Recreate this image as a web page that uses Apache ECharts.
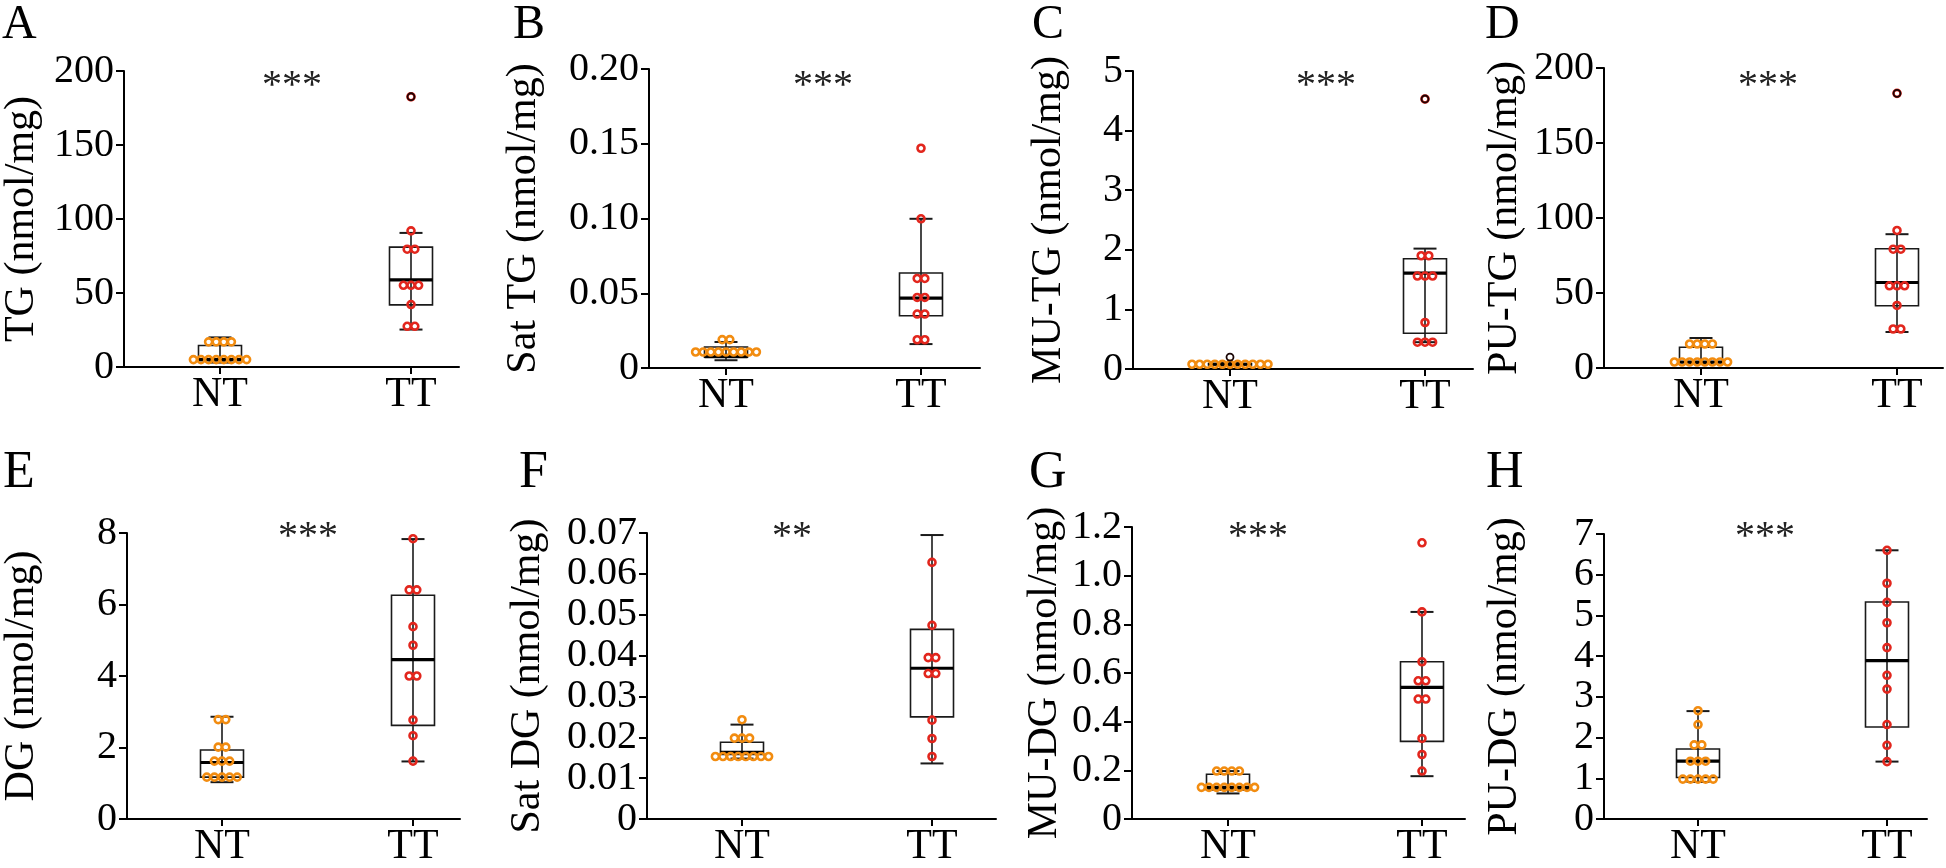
<!DOCTYPE html>
<html>
<head>
<meta charset="utf-8">
<script src="https://cdn.jsdelivr.net/npm/echarts@6/dist/echarts.min.js"></script>
<style>html,body{margin:0;padding:0;background:#fff}#chart{width:1946px;height:868px}</style>
</head>
<body>
<div id="chart"></div>
<script>
// ---------- data ----------
const categories = ['NT', 'TT'];
const panelLetters = ['A', 'B', 'C', 'D', 'E', 'F', 'G', 'H'];
const yTitles = ['TG (nmol/mg)', 'Sat TG (nmol/mg)', 'MU-TG (nmol/mg)', 'PU-TG (nmol/mg)',
                 'DG (nmol/mg)', 'Sat DG (nmol/mg)', 'MU-DG (nmol/mg)', 'PU-DG (nmol/mg)'];
const significance = ['***', '***', '***', '***', '***', '**', '***', '***'];

// tick values and labels
const A_ticks = [0, 50, 100, 150, 200];           const A_tickLabels = ['0', '50', '100', '150', '200'];
const B_ticks = [0, 0.05, 0.10, 0.15, 0.20];      const B_tickLabels = ['0', '0.05', '0.10', '0.15', '0.20'];
const C_ticks = [0, 1, 2, 3, 4, 5];               const C_tickLabels = ['0', '1', '2', '3', '4', '5'];
const D_ticks = [0, 50, 100, 150, 200];           const D_tickLabels = ['0', '50', '100', '150', '200'];
const E_ticks = [0, 2, 4, 6, 8];                  const E_tickLabels = ['0', '2', '4', '6', '8'];
const F_ticks = [0, 0.01, 0.02, 0.03, 0.04, 0.05, 0.06, 0.07];
const F_tickLabels = ['0', '0.01', '0.02', '0.03', '0.04', '0.05', '0.06', '0.07'];
const G_ticks = [0, 0.2, 0.4, 0.6, 0.8, 1.0, 1.2]; const G_tickLabels = ['0', '0.2', '0.4', '0.6', '0.8', '1.0', '1.2'];
const H_ticks = [0, 1, 2, 3, 4, 5, 6, 7];          const H_tickLabels = ['0', '1', '2', '3', '4', '5', '6', '7'];

// individual points
const A_NT = [17, 17, 17, 17, 5, 5, 5, 5, 5, 5, 5, 5];
const A_TT = [182.6, 92, 79.6, 79.6, 55.2, 55.2, 55.2, 42.2, 27.5, 27.5];
const B_NT = [0.019, 0.019, 0.0107, 0.0107, 0.0107, 0.0107, 0.0107, 0.0107, 0.0107, 0.0107, 0.0107];
const B_TT = [0.147, 0.0998, 0.0599, 0.0599, 0.0472, 0.0472, 0.0361, 0.0361, 0.0189, 0.0189];
const C_NT = [0.08, 0.08, 0.08, 0.08, 0.08, 0.08, 0.08, 0.08, 0.08, 0.08, 0.08];
const C_TT = [4.53, 1.90, 1.90, 1.56, 1.56, 1.56, 0.78, 0.45, 0.45, 0.45];
const D_NT = [16, 16, 16, 16, 4, 4, 4, 4, 4, 4, 4, 4];
const D_TT = [183.1, 91.7, 79.2, 79.2, 54.8, 54.8, 54.8, 41.7, 26, 26];
const E_NT = [2.78, 2.78, 2.01, 2.01, 1.62, 1.62, 1.62, 1.17, 1.17, 1.17, 1.17, 1.17];
const E_TT = [7.84, 6.41, 6.41, 5.38, 4.86, 4.0, 4.0, 2.77, 2.33, 1.62];
const F_NT = [0.0243, 0.0198, 0.0198, 0.0198, 0.0153, 0.0153, 0.0153, 0.0153, 0.0153, 0.0153, 0.0153, 0.0153];
const F_TT = [0.0710, 0.0628, 0.0474, 0.0395, 0.0395, 0.0356, 0.0356, 0.0242, 0.0197, 0.0153];
const G_NT = [0.197, 0.197, 0.197, 0.197, 0.130, 0.130, 0.130, 0.130, 0.130, 0.130, 0.130, 0.130];
const G_TT = [1.135, 0.851, 0.646, 0.568, 0.568, 0.493, 0.493, 0.331, 0.265, 0.197];
const H_NT = [2.66, 2.32, 1.82, 1.82, 1.42, 1.42, 1.42, 0.98, 0.98, 0.98, 0.98, 0.98];
const H_TT = [6.60, 5.79, 5.32, 4.82, 4.21, 3.53, 3.19, 2.32, 1.81, 1.41];

// box statistics [lower whisker, Q1, median, Q3, upper whisker]
const A_box_NT = [3, 4.5, 5, 14.5, 20];          const A_box_TT = [25.3, 42, 58.9, 81, 90.6];
const B_box_NT = [0.0052, 0.0072, 0.0076, 0.014, 0.0174]; const B_box_TT = [0.016, 0.035, 0.0468, 0.0635, 0.0998];
const C_box_NT = [0.06, 0.07, 0.08, 0.09, 0.10]; const C_box_TT = [0.45, 0.60, 1.61, 1.85, 2.02];
const D_box_NT = [3, 3.5, 4, 13.8, 20];          const D_box_TT = [24, 41.5, 57, 79.5, 89.2];
const E_box_NT = [1.03, 1.17, 1.58, 1.93, 2.86]; const E_box_TT = [1.61, 2.62, 4.46, 6.26, 7.83];
const F_box_NT = [0.0148, 0.0158, 0.0163, 0.0188, 0.0231]; const F_box_TT = [0.0136, 0.025, 0.0369, 0.0464, 0.0695];
const G_box_NT = [0.105, 0.119, 0.13, 0.184, 0.197]; const G_box_TT = [0.176, 0.319, 0.541, 0.646, 0.851];
const H_box_NT = [0.91, 1.02, 1.42, 1.72, 2.65]; const H_box_TT = [1.41, 2.26, 3.89, 5.33, 6.60];

// outlier markers (dark rings)
const A_out_NT = [];     const A_out_TT = [182.6];
const B_out_NT = [];     const B_out_TT = [];
const C_out_NT = [0.20]; const C_out_TT = [4.53];
const D_out_NT = [];     const D_out_TT = [183.1];
const E_out_NT = [];     const E_out_TT = [];
const F_out_NT = [];     const F_out_TT = [];
const G_out_NT = [];     const G_out_TT = [];
const H_out_NT = [];     const H_out_TT = [];

const panelsData = [
  {ticks: A_ticks, labels: A_tickLabels, nt: A_NT, tt: A_TT, boxNT: A_box_NT, boxTT: A_box_TT, outNT: A_out_NT, outTT: A_out_TT},
  {ticks: B_ticks, labels: B_tickLabels, nt: B_NT, tt: B_TT, boxNT: B_box_NT, boxTT: B_box_TT, outNT: B_out_NT, outTT: B_out_TT},
  {ticks: C_ticks, labels: C_tickLabels, nt: C_NT, tt: C_TT, boxNT: C_box_NT, boxTT: C_box_TT, outNT: C_out_NT, outTT: C_out_TT},
  {ticks: D_ticks, labels: D_tickLabels, nt: D_NT, tt: D_TT, boxNT: D_box_NT, boxTT: D_box_TT, outNT: D_out_NT, outTT: D_out_TT},
  {ticks: E_ticks, labels: E_tickLabels, nt: E_NT, tt: E_TT, boxNT: E_box_NT, boxTT: E_box_TT, outNT: E_out_NT, outTT: E_out_TT},
  {ticks: F_ticks, labels: F_tickLabels, nt: F_NT, tt: F_TT, boxNT: F_box_NT, boxTT: F_box_TT, outNT: F_out_NT, outTT: F_out_TT},
  {ticks: G_ticks, labels: G_tickLabels, nt: G_NT, tt: G_TT, boxNT: G_box_NT, boxTT: G_box_TT, outNT: G_out_NT, outTT: G_out_TT},
  {ticks: H_ticks, labels: H_tickLabels, nt: H_NT, tt: H_TT, boxNT: H_box_NT, boxTT: H_box_TT, outNT: H_out_NT, outTT: H_out_TT}
];

// ---------- layout (pixels) ----------
const layout = [
  {x0: 124,  top: 71,  bottom: 367, nt: 220,  tt: 411,  right: 459,  titleDist: 102, lx: 2,    ly: 40,  sx: 292,  sy: 80},
  {x0: 649,  top: 69,  bottom: 368, nt: 726,  tt: 921,  right: 980,  titleDist: 125, lx: 513,  ly: 40,  sx: 823,  sy: 80},
  {x0: 1133, top: 71,  bottom: 369, nt: 1230, tt: 1425, right: 1473, titleDist: 84,  lx: 1032, ly: 40,  sx: 1326, sy: 80},
  {x0: 1604, top: 68,  bottom: 368, nt: 1701, tt: 1897, right: 1943, titleDist: 99,  lx: 1485, ly: 40,  sx: 1768, sy: 80},
  {x0: 127,  top: 533, bottom: 825, nt: 222,  tt: 413,  right: 460,  titleDist: 105, lx: 3,    ly: 489, sx: 308,  sy: 531},
  {x0: 647,  top: 533, bottom: 823, nt: 742,  tt: 932,  right: 996,  titleDist: 119, lx: 519,  ly: 489, sx: 792,  sy: 531},
  {x0: 1132, top: 527, bottom: 823, nt: 1228, tt: 1422, right: 1465, titleDist: 87,  lx: 1029, ly: 489, sx: 1258, sy: 531},
  {x0: 1604, top: 534, bottom: 823, nt: 1698, tt: 1887, right: 1927, titleDist: 99,  lx: 1486, ly: 489, sx: 1765, sy: 531}
];

const FONT = '"Liberation Serif", "Times New Roman", serif';
const ORANGE = '#f28c10';
const RED = '#e2261d';
const LINE = '#1a1a1a';
const SPACING = 7.6;
const STAR_FS = 40;
const POS = [1, 3]; // x positions of NT and TT on the value axis

function swarm(values, x) {
  const counts = {}, seen = {};
  values.forEach(v => { counts[v] = (counts[v] || 0) + 1; });
  return values.map(v => {
    const i = seen[v] || 0; seen[v] = i + 1;
    const dx = (i - (counts[v] - 1) / 2) * SPACING;
    return {value: [x, v], symbolOffset: [dx, 0]};
  });
}

const grids = [], xAxes = [], yAxes = [], series = [], graphics = [];

panelsData.forEach((pd, p) => {
  const L = layout[p];
  const unit = (L.tt - L.nt) / (POS[1] - POS[0]);
  const xmin = POS[0] - (L.nt - L.x0) / unit;
  const xmax = POS[1] + (L.right - L.tt) / unit;
  grids.push({left: L.x0, top: L.top, width: L.right - L.x0, height: L.bottom - L.top, containLabel: false});
  xAxes.push({
    type: 'value', gridIndex: p, min: xmin, max: xmax,
    axisLine: {show: true, onZero: false, lineStyle: {color: '#000', width: 2}},
    axisTick: {show: true, customValues: POS, length: 7, lineStyle: {color: '#000', width: 2}},
    axisLabel: {show: true, customValues: POS, margin: 7, color: '#000', fontFamily: FONT, fontSize: 42,
      formatter: v => categories[POS.indexOf(Math.round(v))] || ''},
    splitLine: {show: false}
  });
  const ticks = pd.ticks;
  yAxes.push({
    type: 'value', gridIndex: p, min: 0, max: ticks[ticks.length - 1], interval: ticks[1] - ticks[0],
    name: yTitles[p], nameLocation: 'middle', nameRotate: 90, nameGap: L.titleDist - 21,
    nameTextStyle: {color: '#000', fontFamily: FONT, fontSize: 42, lineHeight: 42},
    axisLine: {show: true, onZero: false, lineStyle: {color: '#000', width: 2}},
    axisTick: {show: true, customValues: ticks, length: 8, lineStyle: {color: '#000', width: 2}},
    axisLabel: {show: true, customValues: ticks, margin: 10, color: '#000', fontFamily: FONT, fontSize: 40,
      padding: [6, 0, 0, 0],
      formatter: v => {
        const i = ticks.findIndex(t => Math.abs(t - v) < 1e-9);
        return i >= 0 ? pd.labels[i] : '';
      }},
    splitLine: {show: false}
  });
  // boxes
  series.push({
    type: 'custom', xAxisIndex: p, yAxisIndex: p, z: 2,
    encode: {x: 0, y: [1, 2, 3, 4, 5]},
    data: [[POS[0]].concat(pd.boxNT), [POS[1]].concat(pd.boxTT)],
    renderItem: (params, api) => {
      const x = api.value(0);
      const lo = api.coord([x, api.value(1)]);
      const q1 = api.coord([x, api.value(2)]);
      const md = api.coord([x, api.value(3)]);
      const q3 = api.coord([x, api.value(4)]);
      const hi = api.coord([x, api.value(5)]);
      const cx = lo[0], bw = 43, cw = 23;
      return {type: 'group', children: [
        {type: 'line', shape: {x1: cx, y1: lo[1], x2: cx, y2: hi[1]}, style: {stroke: LINE, lineWidth: 1.6}},
        {type: 'line', shape: {x1: cx - cw / 2, y1: lo[1], x2: cx + cw / 2, y2: lo[1]}, style: {stroke: LINE, lineWidth: 2}},
        {type: 'line', shape: {x1: cx - cw / 2, y1: hi[1], x2: cx + cw / 2, y2: hi[1]}, style: {stroke: LINE, lineWidth: 2}},
        {type: 'rect', shape: {x: cx - bw / 2, y: q3[1], width: bw, height: q1[1] - q3[1]},
          style: {fill: 'rgba(255,255,255,0)', stroke: LINE, lineWidth: 1.6}},
        {type: 'line', shape: {x1: cx - bw / 2, y1: md[1], x2: cx + bw / 2, y2: md[1]}, style: {stroke: '#000', lineWidth: 3.2}}
      ]};
    }
  });
  // points
  series.push({
    type: 'scatter', xAxisIndex: p, yAxisIndex: p, z: 3, symbol: 'circle', symbolSize: 7,
    itemStyle: {color: 'rgba(255,255,255,0)', borderColor: ORANGE, borderWidth: 2.6, opacity: 1},
    data: swarm(pd.nt, POS[0])
  });
  series.push({
    type: 'scatter', xAxisIndex: p, yAxisIndex: p, z: 3, symbol: 'circle', symbolSize: 7,
    itemStyle: {color: 'rgba(255,255,255,0)', borderColor: RED, borderWidth: 2.6, opacity: 1},
    data: swarm(pd.tt, POS[1])
  });
  // outlier rings
  const outs = pd.outNT.map(v => [POS[0], v]).concat(pd.outTT.map(v => [POS[1], v]));
  if (outs.length) {
    series.push({
      type: 'scatter', xAxisIndex: p, yAxisIndex: p, z: 4, symbol: 'circle', symbolSize: 7,
      itemStyle: {color: 'rgba(255,255,255,0)', borderColor: '#1a0505', borderWidth: 1.8, opacity: 1},
      data: outs
    });
  }
  // panel letter
  const lfs = p < 4 ? 48 : 52;
  graphics.push({type: 'text', left: L.lx, top: L.ly - 0.805 * lfs,
    style: {text: panelLetters[p], font: lfs + 'px ' + FONT, fill: '#000', lineHeight: lfs}});
  // significance
  graphics.push({type: 'text', x: L.sx, y: L.sy + 0.165 * STAR_FS,
    style: {text: significance[p], font: STAR_FS + 'px ' + FONT, fill: '#222', align: 'center', verticalAlign: 'middle'}});
});

const chart = echarts.init(document.getElementById('chart'), null, {renderer: 'canvas'});
chart.setOption({
  backgroundColor: '#fff',
  animation: false,
  grid: grids, xAxis: xAxes, yAxis: yAxes, series: series, graphic: graphics
});
</script>
</body>
</html>
